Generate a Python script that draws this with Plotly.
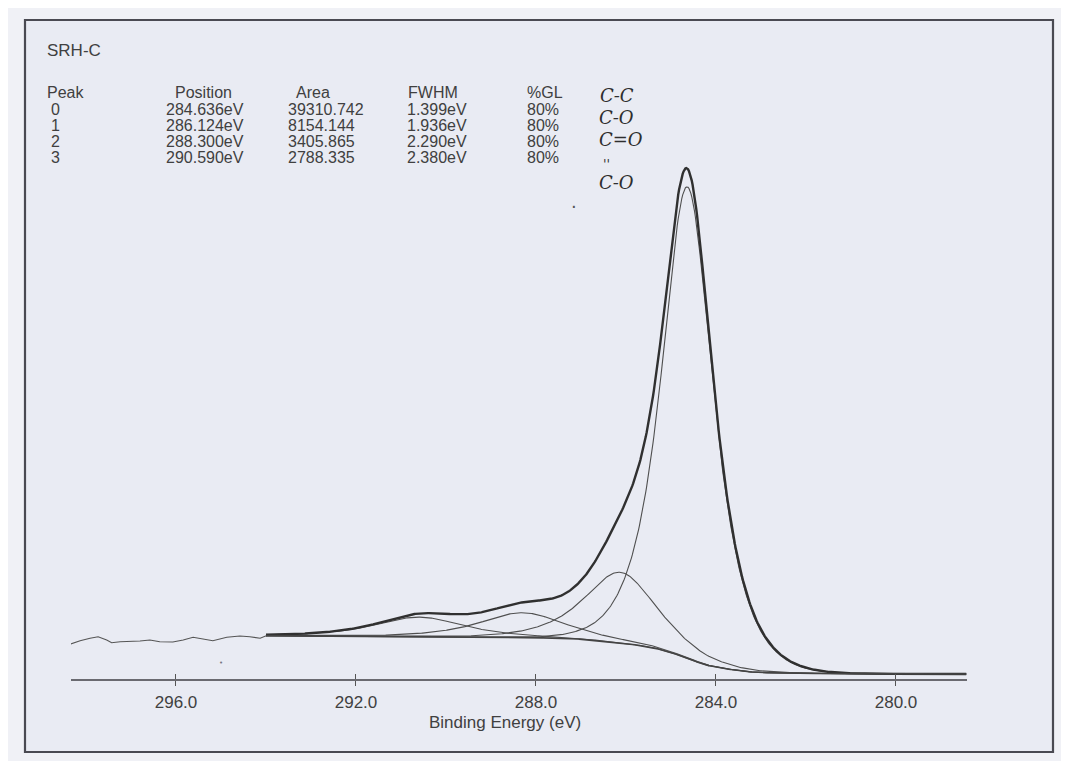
import numpy as np
import plotly.graph_objects as go

sample_name = "SRH-C"
table_headers = ["Peak", "Position", "Area", "FWHM", "%GL"]
peak_ids = [0, 1, 2, 3]
peak_position_ev = [284.636, 286.124, 288.300, 290.590]
peak_area = [39310.742, 8154.144, 3405.865, 2788.335]
peak_fwhm_ev = [1.399, 1.936, 2.290, 2.380]
peak_gl_pct = [80, 80, 80, 80]
peak_notes = ["C-C", "C-O", "C=O", "C-O"]          # handwritten notes

# raw spectrum left of the fitted region (counts in arbitrary units)
raw_be = [298.34, 298.13, 297.91, 297.73, 297.54, 297.43, 297.24, 297.02, 296.80,
          296.58, 296.36, 296.07, 295.84, 295.62, 295.40, 295.18, 294.87, 294.58,
          294.36, 294.13, 293.98]
raw_counts = [1796, 1965, 2088, 2170, 2001, 1862, 1913, 1913, 1949,
              2001, 1913, 1898, 2001, 2139, 2037, 1965, 2139, 2206,
              2170, 2088, 2230]

# Shirley background under the fit
bg_be = [294.02, 293.0, 292.13, 290.9, 289.91, 288.8, 287.69, 287.1, 286.58, 285.98,
         285.47, 285.02, 284.75, 284.51, 284.25, 283.98, 283.47, 283.09, 282.4,
         281.62, 280.0, 278.45]
bg_counts = [2225, 2205, 2190, 2172, 2155, 2135, 2103, 2060, 1950, 1815,
             1645, 1390, 1140, 955, 730, 600, 415, 335, 295,
             275, 262, 257]

tick_values = [296.0, 292.0, 288.0, 284.0, 280.0]
x_title = "Binding Energy (eV)"

# ---------------- fitted components from the peak table ----------------
def gl_shape(be, pos, fwhm, gl):
    m = gl / 100.0
    r = ((be - pos) / fwhm) ** 2
    return np.exp(-4 * np.log(2) * (1 - m) * r) / (1 + 4 * m * r)

fit_be = np.arange(294.0, 278.44, -0.02)
bg_fit = np.interp(fit_be[::-1], bg_be[::-1], bg_counts[::-1])[::-1]

components = []
for pos, area, fwhm, gl in zip(peak_position_ev, peak_area, peak_fwhm_ev, peak_gl_pct):
    wide = np.linspace(pos - 60, pos + 60, 60001)
    norm = np.trapezoid(gl_shape(wide, pos, fwhm, gl), wide)
    components.append(area / norm * gl_shape(fit_be, pos, fwhm, gl))
envelope = np.sum(components, axis=0) + bg_fit

# ---------------- layout geometry ----------------
# page is drawn at an 8px body offset; plot area spans screen x 71..967, y 140..679
W, H = 1053, 753
L, R, T, B = 63, 94, 132, 82
PW, PH = W - L - R, H - T - B

def at(xs, ys):
    """screen-pixel position -> paper coordinates of the plot area"""
    return dict(x=(xs - 71) / PW, y=(679 - ys) / PH, xref="paper", yref="paper")

fig = go.Figure()
fig.add_trace(go.Scatter(x=fit_be, y=bg_fit, mode="lines", xaxis="x2",
                         line=dict(color="#444444", width=1.6), hoverinfo="skip"))
for comp in components:
    fig.add_trace(go.Scatter(x=fit_be, y=comp + bg_fit, mode="lines",
                             line=dict(color="#4f4f4f", width=1.1), hoverinfo="skip"))
fig.add_trace(go.Scatter(x=fit_be, y=envelope, mode="lines",
                         line=dict(color="#303030", width=2.4), hoverinfo="skip"))
fig.add_trace(go.Scatter(x=raw_be, y=raw_counts, mode="lines",
                         line=dict(color="#555555", width=1.1), hoverinfo="skip"))

txt = dict(family="Liberation Sans, Arial, sans-serif", size=17, color="#404040")
tab = dict(family="Liberation Sans, Arial, sans-serif", size=16, color="#404040")
ann = []
ann.append(dict(text=sample_name, xanchor="left", yanchor="middle", showarrow=False,
                font=txt, **at(45, 51)))
col_x_head = [45, 173, 294, 406, 525]
col_x_val = [49, 164, 286, 405, 525]
head_y = 92
row_y = [109, 125, 141, 157]
for hx, h in zip(col_x_head, table_headers):
    ann.append(dict(text=h, xanchor="left", yanchor="middle", showarrow=False,
                    font=tab, **at(hx, head_y)))
for i, pid in enumerate(peak_ids):
    vals = [str(pid), f"{peak_position_ev[i]:.3f}eV", f"{peak_area[i]:.3f}",
            f"{peak_fwhm_ev[i]:.3f}eV", f"{peak_gl_pct[i]}%"]
    for cx, v in zip(col_x_val, vals):
        ann.append(dict(text=v, xanchor="left", yanchor="middle", showarrow=False,
                        font=tab, **at(cx, row_y[i])))

hand = dict(family="DejaVu Serif, serif", size=18, color="#2e2e2e", style="italic")
note_pos = [(598, 95), (597, 117), (597, 139), (597, 182)]
for (nx, ny), note in zip(note_pos, peak_notes):
    ann.append(dict(text=note, xanchor="left", yanchor="middle", showarrow=False,
                    font=hand, **at(nx, ny)))
ann.append(dict(text="''", xanchor="left", yanchor="middle", showarrow=False,
                font=dict(family="DejaVu Serif", size=13, color="#2e2e2e"), **at(601, 164)))
ann.append(dict(text="·", xanchor="center", yanchor="middle", showarrow=False,
                font=dict(family="DejaVu Sans", size=18, color="#555555"), **at(574, 207)))
ann.append(dict(text="•", xanchor="center", yanchor="middle", showarrow=False,
                font=dict(family="DejaVu Sans", size=7, color="#77777f"), **at(221, 663)))
ann.append(dict(text=x_title, xanchor="center", yanchor="middle", showarrow=False,
                font=txt, **at(505, 722)))

frame = dict(type="rect", xref="paper", yref="paper", layer="below",
             x0=(25 - 71) / PW, x1=(1053 - 71) / PW,
             y0=(679 - 752) / PH, y1=(679 - 20) / PH,
             line=dict(color="#4a4a52", width=2.2), fillcolor="#e9ebf3")

fig.update_layout(
    width=W, height=H, autosize=False,
    margin=dict(l=L, r=R, t=T, b=B, pad=0),
    paper_bgcolor="#f0f1f6", plot_bgcolor="rgba(0,0,0,0)",
    showlegend=False, annotations=ann, shapes=[frame],
    xaxis=dict(range=[298.333, 278.422], tickvals=tick_values, tickformat=".1f",
               ticks="outside", ticklen=5, tickwidth=1.2, tickcolor="#555555",
               showline=True, linecolor="#6a6a70", linewidth=1.6,
               showgrid=False, zeroline=False, tickfont=txt, ticklabelstandoff=2),
    xaxis2=dict(matches="x", overlaying="x", side="bottom", anchor="y",
                tickvals=tick_values, ticks="inside", ticklen=5, tickwidth=1.2,
                tickcolor="#555555", showticklabels=False, showline=False,
                showgrid=False, zeroline=False),
    yaxis=dict(range=[0, PH * 51.3], visible=False),
)

fig.write_html("out.html")
